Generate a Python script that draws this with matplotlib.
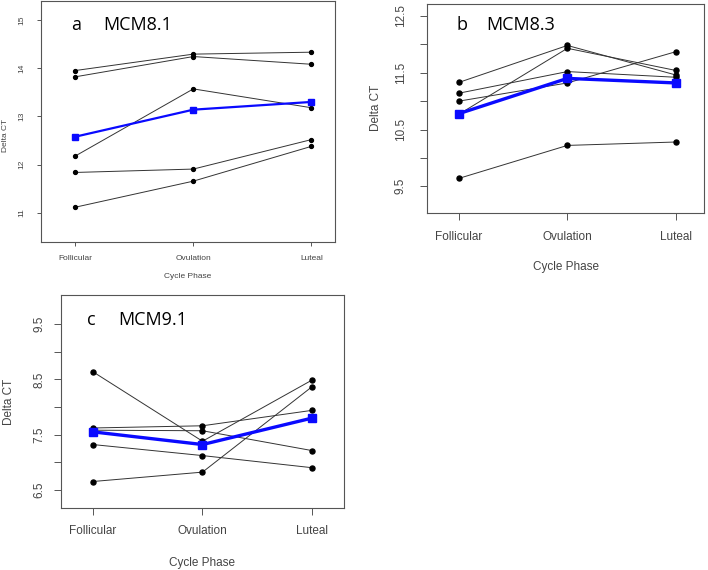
import numpy as np
import matplotlib
matplotlib.use("Agg")
import matplotlib.pyplot as plt

phases = ["Follicular", "Ovulation", "Luteal"]

# individual subjects (Follicular, Ovulation, Luteal) and the mean line
mcm81 = [
    [13.95, 14.29, 14.33],
    [13.82, 14.24, 14.08],
    [12.18, 13.57, 13.18],
    [11.84, 11.91, 12.52],
    [11.12, 11.66, 12.38],
]
mcm81_mean = [12.58, 13.14, 13.30]

mcm83 = [
    [11.33, 11.98, 11.46],
    [10.77, 11.93, 11.54],
    [11.14, 11.52, 11.42],
    [11.00, 11.32, 11.87],
    [9.64, 10.22, 10.28],
]
mcm83_mean = [10.78, 11.40, 11.32]

mcm91 = [
    [8.64, 7.38, 8.49],
    [7.62, 7.66, 7.94],
    [7.58, 7.57, 7.21],
    [7.32, 7.12, 6.90],
    [6.65, 6.82, 8.37],
]
mcm91_mean = [7.55, 7.32, 7.80]

W, H = 708, 570
fig = plt.figure(figsize=(W / 100, H / 100), dpi=100)


def fx(x):
    return x / W


def fy(y):
    return 1 - y / H


def panel(box, rows, mean, ylim, yticks, ylabels, xlim, fs, tlen, ms, bms, blw, xpad, ypad):
    l, t, r, b = box
    ax = fig.add_axes([fx(l), fy(b), (r - l) / W, (b - t) / H])
    x = np.arange(1, 4)
    for row in rows:
        ax.plot(x, row, color="#333333", lw=0.7, marker="o", ms=ms,
                mfc="black", mec="black", zorder=2)
    ax.plot(x, mean, color="#0a0aff", lw=blw, marker="s", ms=bms,
            mfc="#0a0aff", mec="#0a0aff", zorder=3)
    ax.set_xlim(*xlim)
    ax.set_ylim(*ylim)
    ax.set_xticks(x)
    ax.set_xticklabels(phases, family="Liberation Sans")
    ax.set_yticks(yticks)
    ax.set_yticklabels(ylabels, family="Liberation Sans", rotation=90,
                       va="center", ha="right")
    ax.tick_params(axis="x", length=tlen, width=0.7, color="#555555",
                   labelsize=fs, labelcolor="#444444", pad=xpad)
    ax.tick_params(axis="y", length=tlen, width=0.7, color="#555555",
                   labelsize=fs, labelcolor="#444444", pad=ypad)
    for s in ax.spines.values():
        s.set_color("#555555")
        s.set_linewidth(0.8)
    return ax


tick_font = dict(family="Liberation Sans", color="#444444")
title_font = dict(family="Open Sans", color="black", fontsize=13, va="center")

# panel a
panel((41, 1, 335, 242), mcm81, mcm81_mean, (10.4, 15.39),
      [11, 12, 13, 14, 15], ["11", "12", "13", "14", "15"],
      (0.71, 3.2), 6, 3, 2.8, 4, 1.6, 6, 8)
fig.text(fx(6), fy(135), "Delta CT", rotation=90, ha="center", va="center",
         fontsize=6, **tick_font)
fig.text(fx(188), fy(276), "Cycle Phase", ha="center", va="center",
         fontsize=6, **tick_font)
fig.text(fx(71), fy(25), "a", ha="left", **title_font)
fig.text(fx(103), fy(25), "MCM8.1", ha="left", **title_font)

# panel b
panel((427, 4, 704, 213), mcm83, mcm83_mean, (9.03, 12.71),
      np.arange(9.5, 12.51, 0.5), ["9.5", "", "10.5", "", "11.5", "", "12.5"],
      (0.705, 3.26), 8.5, 5, 3.6, 6, 2.4, 8, 9.5)
fig.text(fx(376), fy(108), "Delta CT", rotation=90, ha="center", va="center",
         fontsize=8.5, **tick_font)
fig.text(fx(566), fy(267), "Cycle Phase", ha="center", va="center",
         fontsize=8.5, **tick_font)
fig.text(fx(457), fy(25), "b", ha="left", **title_font)
fig.text(fx(486), fy(25), "MCM8.3", ha="left", **title_font)

# panel c
panel((61, 295, 344, 508), mcm91, mcm91_mean, (6.17, 10.03),
      np.arange(6.5, 9.51, 0.5), ["6.5", "", "7.5", "", "8.5", "", "9.5"],
      (0.71, 3.29), 8.5, 5, 3.6, 6, 2.4, 7, 6.5)
fig.text(fx(9), fy(402), "Delta CT", rotation=90, ha="center", va="center",
         fontsize=8.5, **tick_font)
fig.text(fx(202), fy(563), "Cycle Phase", ha="center", va="center",
         fontsize=8.5, **tick_font)
fig.text(fx(87), fy(320), "c", ha="left", **title_font)
fig.text(fx(118), fy(320), "MCM9.1", ha="left", **title_font)

fig.savefig("out.png", dpi=100)
